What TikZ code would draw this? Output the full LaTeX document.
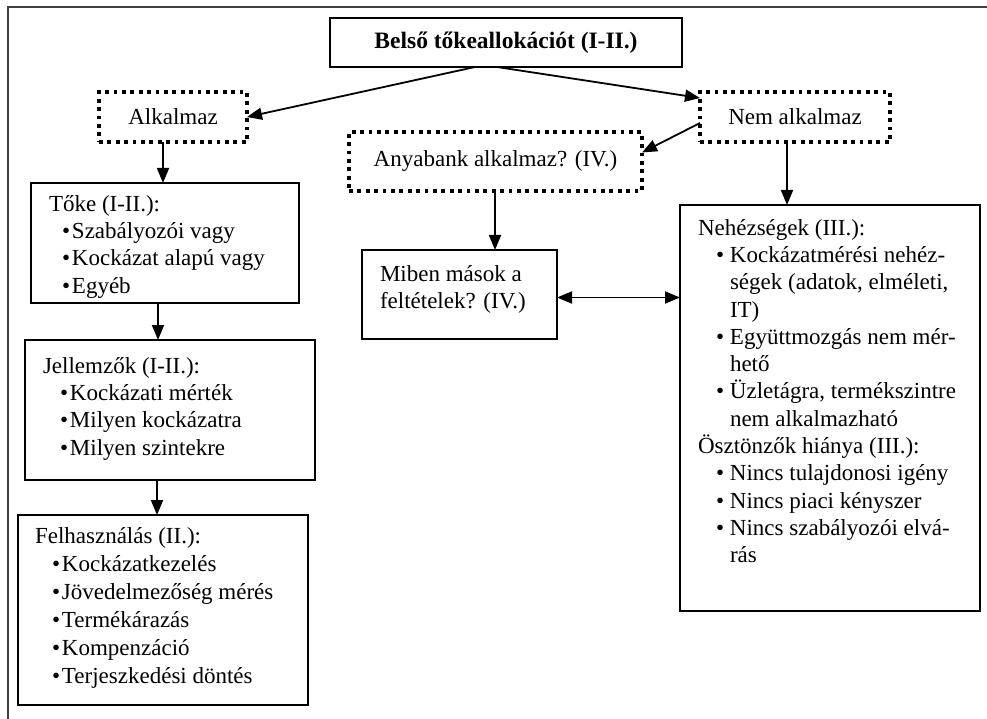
\documentclass[tikz,border=0pt]{standalone}
\usepackage{fontspec}
\setmainfont{Liberation Serif}
\usetikzlibrary{arrows.meta,calc}
\newcommand\bul[2]{\hspace*{#1}\makebox[#2][l]{\textbullet}}
\newcommand\bulT{\bul{13pt}{10pt}}
\newcommand\bulL{\bul{17pt}{10pt}}
\newcommand\bulN{\bul{18pt}{14pt}}
\newcommand\cnt{\hspace*{32pt}}
\begin{document}
\begin{tikzpicture}[x=1pt,y=-1pt,
  every node/.style={inner sep=0pt, outer sep=0pt},
  solidbox/.style={draw, line width=1.7pt, anchor=north west},
  dotbox/.style={draw, line width=3.8pt, dash pattern=on 3.8pt off 4.6pt, anchor=north west, font=\fontsize{23}{27.3}\selectfont},
  titlebox/.style={draw, line width=1.9pt, anchor=north west, font=\fontsize{23.5}{27}\selectfont\bfseries},
  txt/.style={anchor=north west, align=left, font=\fontsize{23}{27.3}\selectfont},
  arr/.style={line width=1.8pt, -{Triangle[length=15pt,width=12pt]}},
  darr/.style={line width=1.8pt, {Triangle[length=15pt,width=12pt]}-{Triangle[length=15pt,width=12pt]}},
  frameline/.style={line width=2pt, draw=black!75}]
\useasboundingbox (0,0) rectangle (987,719);
\draw[frameline] (8,719) -- (8,7) -- (987,7);

% boxes
\node[titlebox, minimum width=352pt, minimum height=49pt] (title) at (330,18) {Belső tőkeallokációt (I-II.)};
\node[dotbox, minimum width=148pt, minimum height=50pt] (alk) at (99,92) {Alkalmaz};
\node[dotbox, minimum width=190pt, minimum height=50pt] (nem) at (700,92) {Nem alkalmaz};
\node[dotbox, minimum width=293pt, minimum height=59pt] (any) at (349,132) {Anyabank alkalmaz? (IV.)};

\node[solidbox, minimum width=268pt, minimum height=120pt] (toke) at (31,183) {};
\node[solidbox, minimum width=290pt, minimum height=140pt] (jel) at (25,340) {};
\node[solidbox, minimum width=290pt, minimum height=190pt] (fel) at (18,515) {};
\node[solidbox, minimum width=195pt, minimum height=89pt] (mib) at (362,250) {};
\node[solidbox, minimum width=300pt, minimum height=406pt] (neh) at (680,205) {};

% texts
\node[txt] (tokeT) at (49,192) {\strut Tőke (I-II.):\\ \bulT Szabályozói vagy\\ \bulT Kockázat alapú vagy\\ \bulT Egyéb};
\node[txt] (jelT) at (43,354) {\strut Jellemzők (I-II.):\\ \bulL Kockázati mérték\\ \bulL Milyen kockázatra\\ \bulL Milyen szintekre};
\node[txt, font=\fontsize{23}{28}\selectfont] (felT) at (35,523.4) {\strut Felhasználás (II.):\\ \bulL Kockázatkezelés\\ \bulL Jövedelmezőség mérés\\ \bulL Termékárazás\\ \bulL Kompenzáció\\ \bulL Terjeszkedési döntés};
\node[txt] (mibT) at (380,262) {\strut Miben mások a\\ feltételek? (IV.)};
\node[txt] (nehT) at (698,216) {\strut Nehézségek (III.):\\ \bulN Kockázatmérési nehéz-\\ \cnt ségek (adatok, elméleti,\\ \cnt IT)\\ \bulN Együttmozgás nem mér-\\ \cnt hető\\ \bulN Üzletágra, termékszintre\\ \cnt nem alkalmazható\\ Ösztönzők hiánya (III.):\\ \bulN Nincs tulajdonosi igény\\ \bulN Nincs piaci kényszer\\ \bulN Nincs szabályozói elvá-\\ \cnt rás};

% connectors
\draw[arr] ($(title.south west)+(145,0)$) -- (alk.east);
\draw[arr] ($(title.south west)+(167,0)$) -- ($(nem.north west)+(0,6)$);
\draw[arr] ($(nem.west)+(0,6)$) -- ($(any.east)+(0,-9)$);
\coordinate (c1) at ($(alk.south west)+(64,0)$);
\draw[arr] (c1) -- (c1 |- toke.north);
\coordinate (c2) at ($(toke.south west)+(127,0)$);
\draw[arr] (c2) -- (c2 |- jel.north);
\coordinate (c3) at ($(jel.south west)+(132,0)$);
\draw[arr] (c3) -- (c3 |- fel.north);
\coordinate (c4) at ($(any.south west)+(146,0)$);
\draw[arr] (c4) -- (c4 |- mib.north);
\coordinate (c5) at ($(nem.south west)+(87,0)$);
\draw[arr] (c5) -- (c5 |- neh.north);
\coordinate (c6) at ($(mib.east)+(0,3)$);
\draw[darr] (c6) -- (c6 -| neh.west);
\end{tikzpicture}
\end{document}
